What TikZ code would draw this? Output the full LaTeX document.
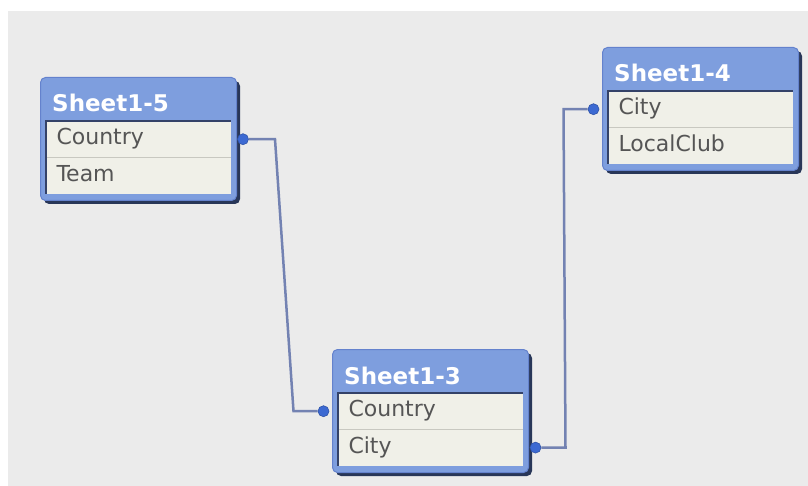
\documentclass[tikz,border=0pt]{standalone}
\usepackage{fontspec}
\setmainfont{DejaVu Sans}
\usetikzlibrary{positioning,shadows}

\definecolor{canvasgray}{RGB}{235,235,235}
\definecolor{framefill}{RGB}{126,158,222}
\definecolor{frameedge}{RGB}{100,130,205}
\definecolor{frameshadow}{RGB}{40,54,88}
\definecolor{rowfill}{RGB}{240,240,232}
\definecolor{rowtext}{RGB}{85,85,85}
\definecolor{rowline}{RGB}{200,200,192}
\definecolor{insetdark}{RGB}{52,66,104}
\definecolor{linkblue}{RGB}{115,130,178}
\definecolor{jointblue}{RGB}{60,105,210}

\begin{document}
\begin{tikzpicture}[x=1pt, y=-1pt, font=\fontsize{22}{26}\selectfont]
    \tikzstyle{frame} = [rectangle, rounded corners=5pt, minimum width=196pt, minimum height=123pt, anchor=north west, draw=frameedge, line width=1pt, fill=framefill, drop shadow={shadow xshift=3.5pt, shadow yshift=-3.5pt, fill=frameshadow, opacity=1}]
    \tikzstyle{title} = [anchor=base west, inner sep=0pt, text=white, font=\fontsize{23}{27}\selectfont\bfseries]
    \tikzstyle{field} = [rectangle, minimum width=184pt, minimum height=36pt, text width=164pt, inner xsep=10pt, inner ysep=0pt, text height=16pt, text depth=5pt, align=left, fill=rowfill, text=rowtext]
    \tikzstyle{rowsep} = [draw=rowline, line width=1pt]
    \tikzstyle{inset} = [draw=insetdark, line width=2pt]
    \tikzstyle{joint} = [circle, inner sep=0pt, minimum size=11pt, fill=jointblue, draw=jointblue!80!black, line width=0.6pt]
    \tikzstyle{link} = [draw=linkblue, line width=2.5pt]

    \useasboundingbox (0,0) rectangle (808,486);
    \fill[canvasgray] (8,11) rectangle (808,486);

    % Sheet1-5
    \node [frame] (s5) at (40,77) {};
    \node [title] (s5title) at ([xshift=12pt, yshift=-35pt]s5.north west) {Sheet1-5};
    \node [field, below=44pt of s5.north] (s5country) {Country};
    \node [field, below=0pt of s5country] (s5team) {Team};
    \draw [rowsep] (s5team.north west) -- (s5team.north east);
    \draw [inset] (s5team.south west) -- (s5country.north west) -- (s5country.north east);

    % Sheet1-4
    \node [frame] (s4) at (602,47) {};
    \node [title] (s4title) at ([xshift=12pt, yshift=-35pt]s4.north west) {Sheet1-4};
    \node [field, below=44pt of s4.north] (s4city) {City};
    \node [field, below=0pt of s4city] (s4club) {LocalClub};
    \draw [rowsep] (s4club.north west) -- (s4club.north east);
    \draw [inset] (s4club.south west) -- (s4city.north west) -- (s4city.north east);

    % Sheet1-3
    \node [frame] (s3) at (332,349) {};
    \node [title] (s3title) at ([xshift=12pt, yshift=-35pt]s3.north west) {Sheet1-3};
    \node [field, below=44pt of s3.north] (s3country) {Country};
    \node [field, below=0pt of s3country] (s3city) {City};
    \draw [rowsep] (s3city.north west) -- (s3city.north east);
    \draw [inset] (s3city.south west) -- (s3country.north west) -- (s3country.north east);

    % Key joints
    \node [joint, right=6.5pt of s5country] (j5country) {};
    \node [joint, left=9pt of s3country] (j3country) {};
    \node [joint, right=7pt of s3city] (j3city) {};
    \node [joint, left=9pt of s4city] (j4city) {};

    % Links
    \draw [link] (j5country) -- ++(32pt,0) -- ([xshift=-30pt]j3country.center) -- (j3country);
    \draw [link] (j3city) -- ++(30pt,0) -- ([xshift=-30pt]j4city.center) -- (j4city);
\end{tikzpicture}
\end{document}
